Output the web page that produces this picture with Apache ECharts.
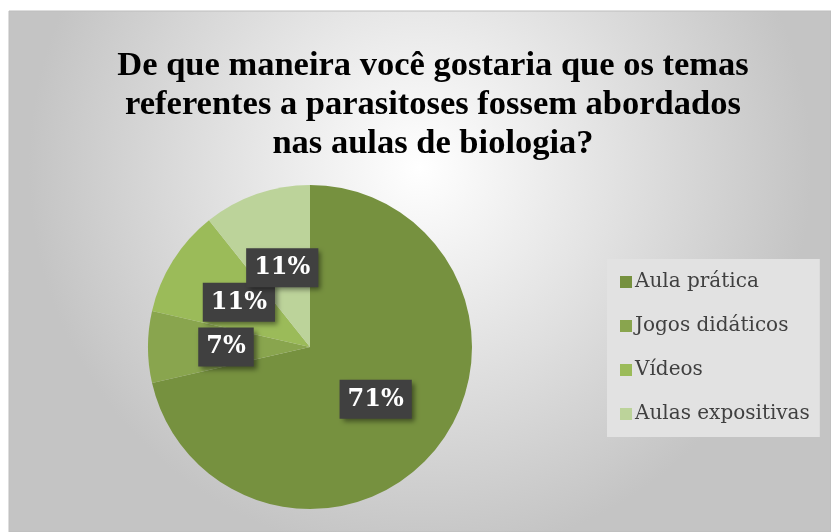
<!DOCTYPE html>
<html>
<head>
<meta charset="utf-8">
<script src="https://cdn.jsdelivr.net/npm/echarts@6/dist/echarts.min.js"></script>
<style>
  html, body { margin: 0; padding: 0; background: #ffffff; }
  #chart { width: 831px; height: 532px; }
</style>
</head>
<body>
<div id="chart"></div>
<script>
// dados do gráfico
var categorias = ['Aula prática', 'Jogos didáticos', 'Vídeos', 'Aulas expositivas'];
var respostas = [20, 2, 3, 3];
var cores = ['#76913f', '#89a54e', '#9bbb59', '#bcd39a'];

var myChart = echarts.init(document.getElementById('chart'));

var serifFont = "'Liberation Serif', 'DejaVu Serif', serif";

var option = {
    animation: false,
    graphic: [{
        type: 'rect',
        shape: { x: 9, y: 11, width: 822, height: 521 },
        style: {
            fill: new echarts.graphic.RadialGradient(0.5, 0.3, 0.75, [
                { offset: 0, color: '#ffffff' },
                { offset: 1, color: '#c4c4c4' }
            ]),
            stroke: '#bdbdbd',
            lineWidth: 1
        },
        z: -10
    }],
    title: {
        text: 'De que maneira você gostaria que os temas\nreferentes a parasitoses fossem abordados\nnas aulas de biologia?',
        left: 428,
        top: 42,
        textAlign: 'center',
        textStyle: {
            fontFamily: serifFont,
            fontWeight: 'bold',
            fontSize: 34.5,
            lineHeight: 39,
            color: '#000000'
        }
    },
    legend: {
        orient: 'vertical',
        left: 607,
        top: 259,
        padding: [12, 10, 12, 13],
        backgroundColor: '#e2e2e2',
        icon: 'rect',
        itemWidth: 12,
        itemHeight: 12,
        itemGap: 22,
        data: categorias,
        textStyle: {
            fontFamily: "'DejaVu Serif', serif",
            fontSize: 20,
            lineHeight: 22,
            color: '#404040',
            padding: [0, 0, 0, -2]
        }
    },
    series: [{
        type: 'pie',
        center: [310, 347],
        radius: 162,
        startAngle: 90,
        clockwise: true,
        color: cores,
        itemStyle: {
            borderWidth: 0
        },
        label: {
            show: true,
            position: 'inside',
            formatter: function (p) { return Math.round(p.percent) + '%'; },
            fontFamily: "'DejaVu Serif', serif",
            fontWeight: 'bold',
            fontSize: 24,
            color: '#ffffff',
            backgroundColor: '#404040',
            padding: [8, 8, 7, 8],
            shadowColor: 'rgba(0,0,0,0.45)',
            shadowBlur: 5,
            shadowOffsetX: 3,
            shadowOffsetY: 3
        },
        labelLayout: { hideOverlap: false },
        labelLine: { show: false },
        emphasis: { disabled: true },
        data: categorias.map(function (nome, i) {
            return { name: nome, value: respostas[i] };
        })
    }]
};

myChart.setOption(option);
</script>
</body>
</html>
